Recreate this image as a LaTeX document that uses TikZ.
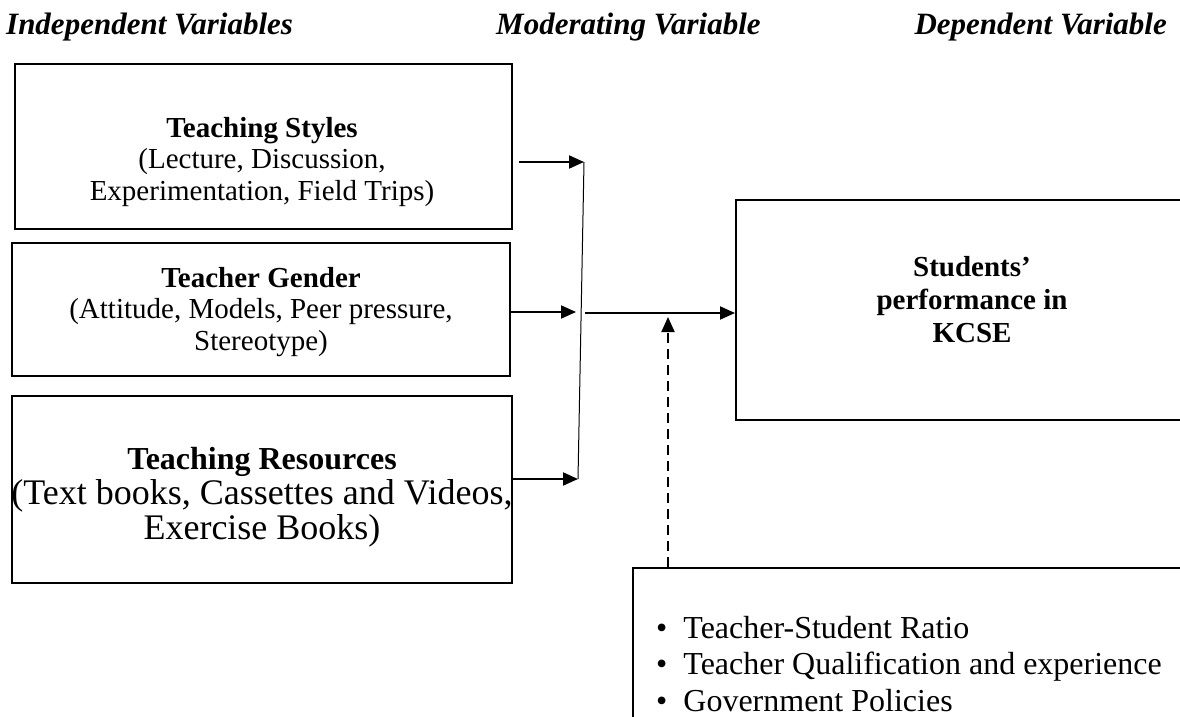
\documentclass[tikz,border=0pt]{standalone}
\usepackage{fontspec}
\setmainfont{Liberation Serif}
\usetikzlibrary{arrows.meta}
\begin{document}
\begin{tikzpicture}[x=1pt,y=-1pt,
  box/.style={draw,line width=2.2pt,inner sep=0pt},
  arr/.style={line width=2pt,-{Triangle[length=15pt,width=13pt]}},
  hdr/.style={font=\fontsize{31}{34}\selectfont\bfseries\itshape,inner sep=0pt},
  boxtext/.style={align=center,inner sep=0pt,font=\fontsize{29}{31.5}\selectfont},
  bigtext/.style={align=center,inner sep=0pt,font=\fontsize{36}{35}\selectfont},
  listtext/.style={align=left,inner sep=0pt,font=\fontsize{32}{36.5}\selectfont}]
\useasboundingbox (0,0) rectangle (1180,717);
\clip (0,0) rectangle (1180,717);

% headers
\node[hdr,anchor=base west] (h1) at (6,35) {Independent Variables};
\node[hdr,anchor=base west] (h2) at (496,35) {Moderating Variable};
\node[hdr,anchor=base east] (h3) at (1167,35) {Dependent Variable};

% boxes
\node[box,minimum width=497pt,minimum height=165pt] (b1) at (263.5,146.5) {};
\node[box,minimum width=498pt,minimum height=133pt] (b2) at (261,309.5) {};
\node[box,minimum width=500pt,minimum height=187pt] (b3) at (262,489.5) {};
\node[box,minimum width=480pt,minimum height=220pt,anchor=north west] (b4) at (735,199) {};
\node[box,minimum width=600pt,minimum height=200pt,anchor=north west] (b5) at (632,567) {};

% texts
\node[boxtext] (t1) at (262,162) {\textbf{Teaching Styles}\\(Lecture, Discussion,\\Experimentation, Field Trips)};
\node[boxtext] (t2) at (261,312) {\textbf{Teacher Gender}\\(Attitude, Models, Peer pressure,\\Stereotype)};
\node[bigtext] (t3) at (262,497) {{\fontsize{32}{35}\selectfont\bfseries Teaching Resources}\\(Text books, Cassettes and Videos,\\Exercise Books)};
\node[boxtext,font=\fontsize{29}{33}\selectfont\bfseries] (t4) at (972,300) {Students’\\performance in\\KCSE};
\node[listtext,anchor=west] (t5) at (656,664) {\textbullet\enspace Teacher-Student Ratio\\\textbullet\enspace Teacher Qualification and experience\\\textbullet\enspace Government Policies};

% junction
\coordinate (j1) at (584,162);
\coordinate (j2) at (576,312);
\coordinate (j3) at (578,479);
\coordinate (s1) at (519,162);
\coordinate (o) at (585,313);
\coordinate (d) at (668,317);

\draw[line width=1pt] (j1) -- (j3);
\draw[arr] (s1) -- (j1);
\draw[arr] (b2.east |- j2) -- (j2);
\draw[arr] (b3.east |- j3) -- (j3);
\draw[arr] (o) -- (o -| b4.west);
\draw[arr,dash pattern=on 10pt off 6pt] (d |- b5.north) -- (d);
\end{tikzpicture}
\end{document}
